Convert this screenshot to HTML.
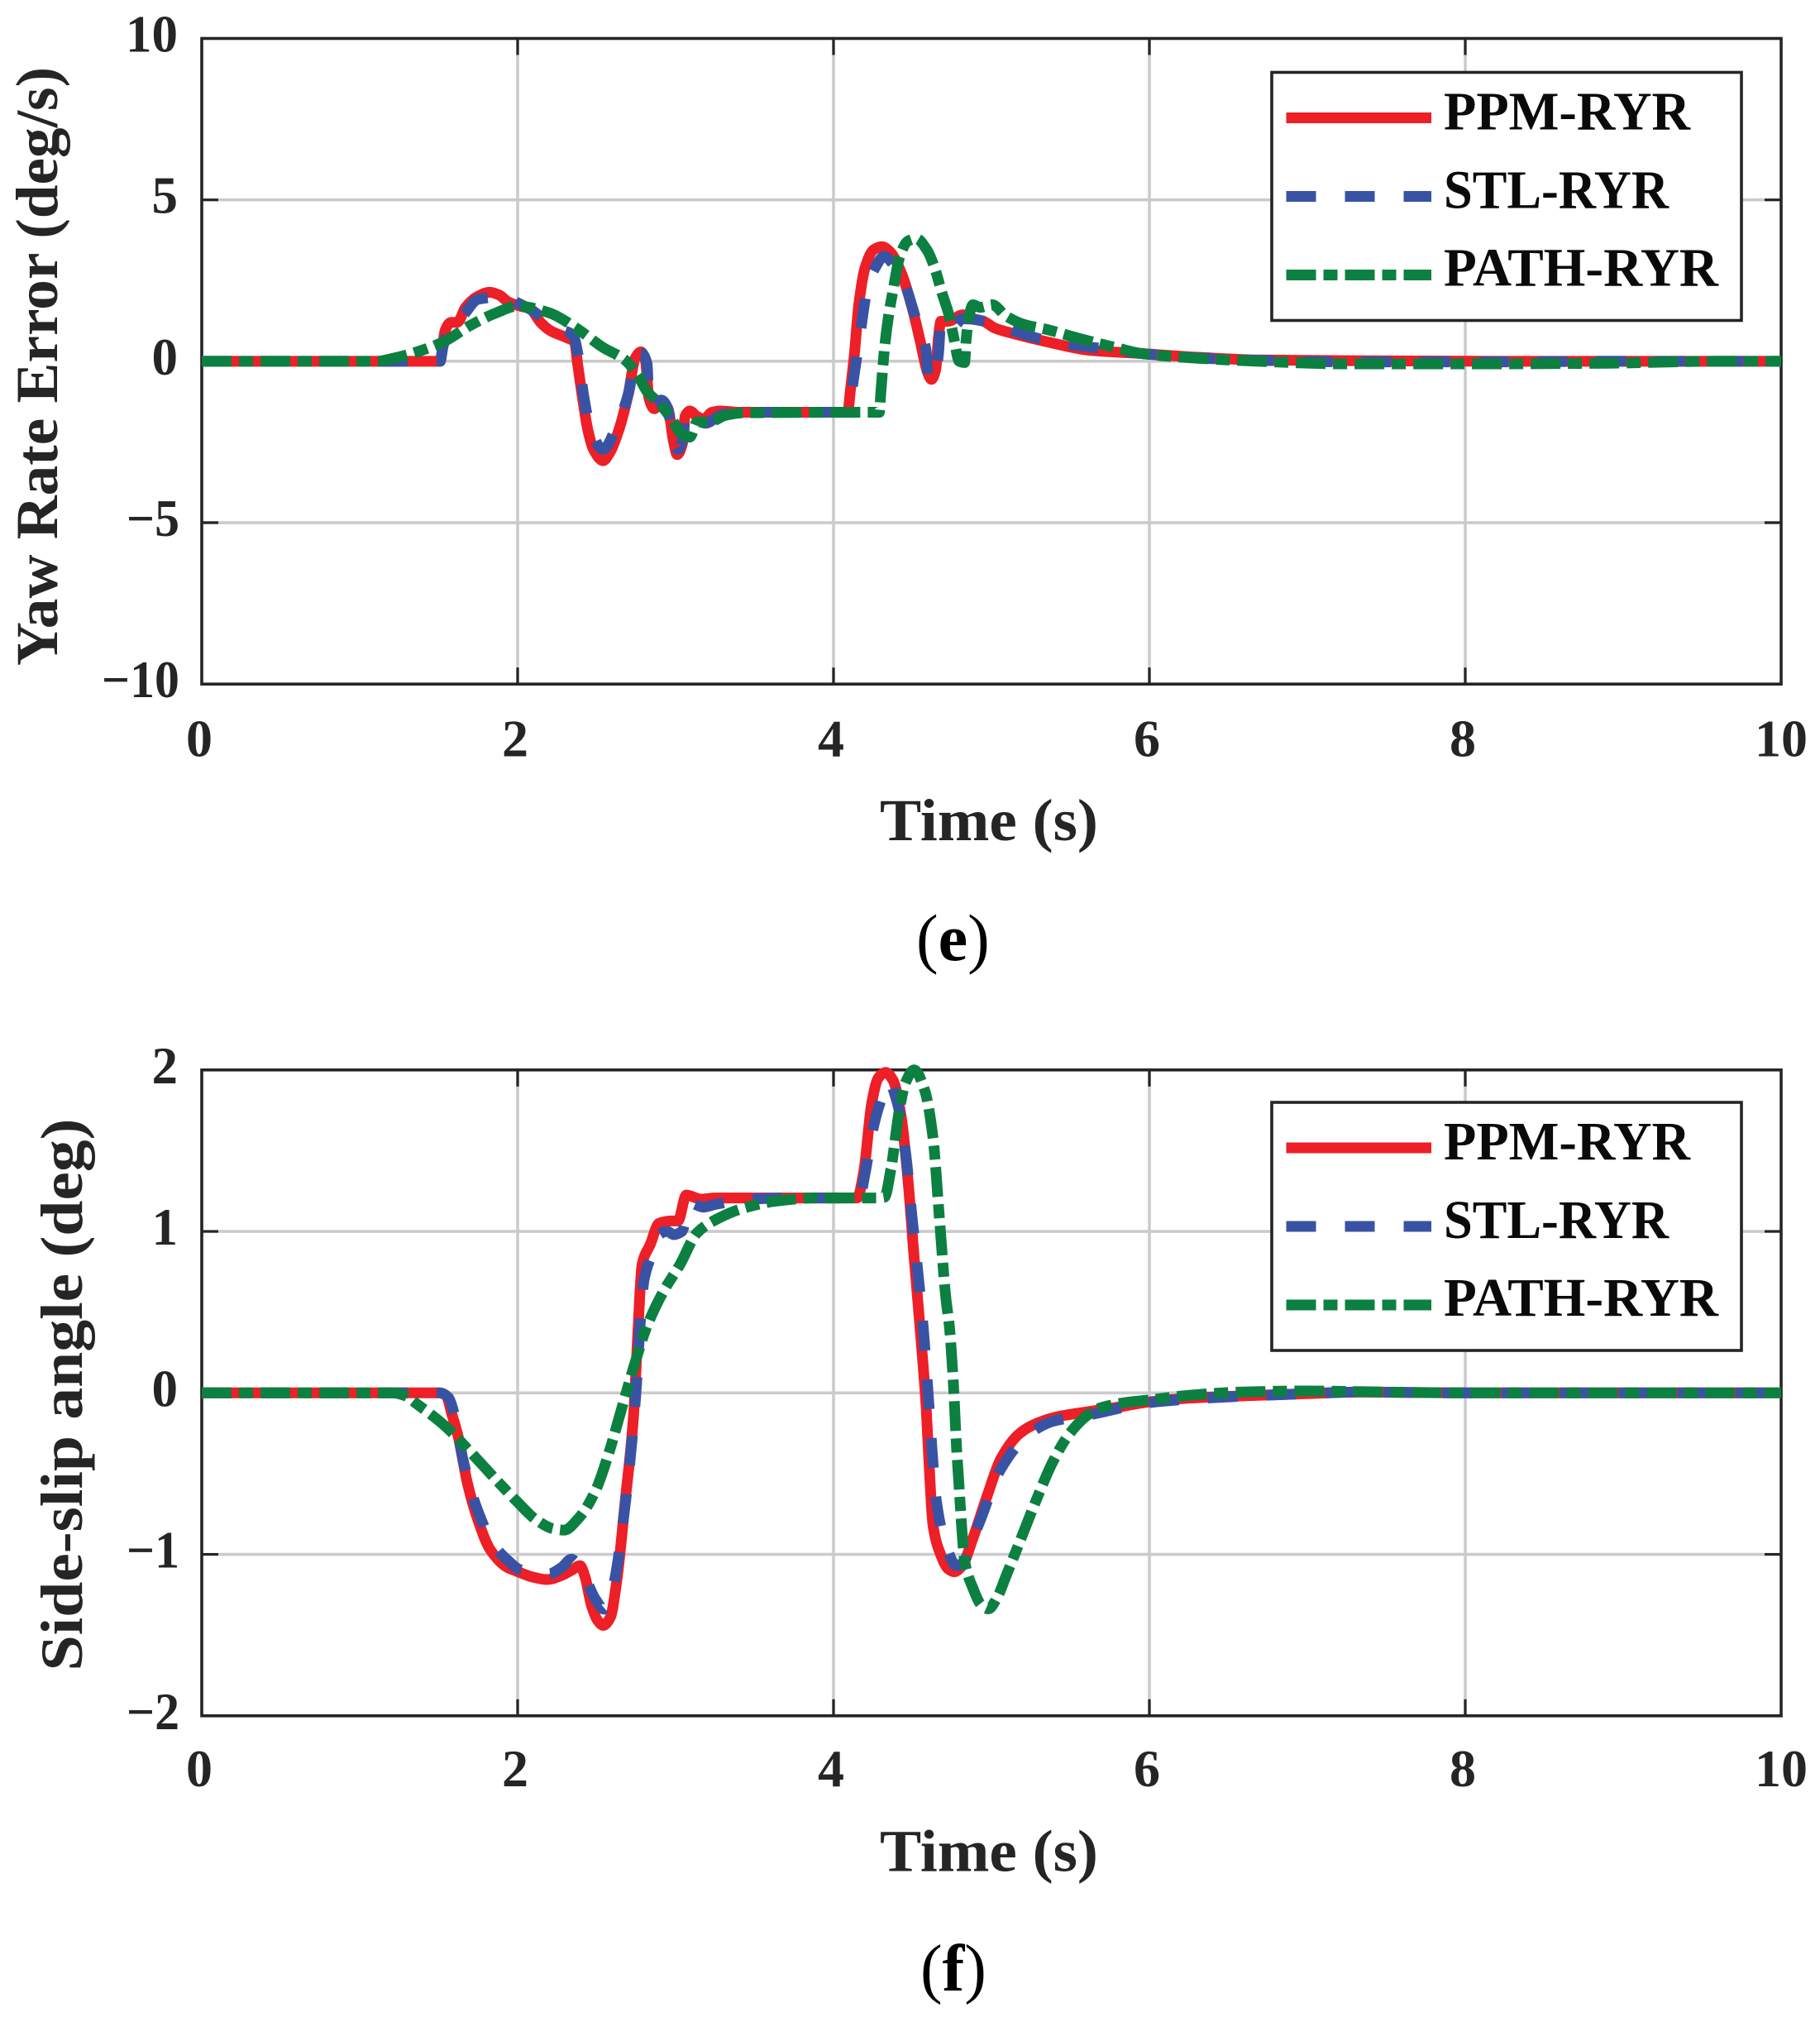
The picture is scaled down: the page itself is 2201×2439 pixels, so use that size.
<!DOCTYPE html>
<html lang="en">
<head>
<meta charset="utf-8">
<title>Yaw rate error and side-slip angle</title>
<style>
html,body{margin:0;padding:0;background:#fff;}
svg{display:block;}
text{font-family:"Liberation Serif",serif;font-weight:bold;}
</style>
</head>
<body>
<svg id="figure" xmlns="http://www.w3.org/2000/svg" width="2201" height="2439" viewBox="0 0 2201 2439"></svg>
<script>
// ---------- Tick labels ----------
const xTicks = [0, 2, 4, 6, 8, 10];
const eYTicks = [-10, -5, 0, 5, 10];
const fYTicks = [-2, -1, 0, 1, 2];

// ---------- Legend ----------
const legendLabels = ['PPM-RYR', 'STL-RYR', 'PATH-RYR'];

// ---------- Panel (e): yaw rate error, deg/s ----------
const eTimePpm = [0,1.51,1.52,1.54,1.576,1.62,1.67,1.744,1.824,1.884,1.94,2,2.08,2.146,2.21,2.31,2.36,2.38,2.41,2.445,2.48,2.54,2.585,2.64,2.7,2.744,2.78,2.81,2.83,2.865,2.9,2.95,2.987,3.01,3.043,3.06,3.09,3.136,3.18,3.23,3.286,3.4,4.09,4.106,4.133,4.159,4.2,4.255,4.307,4.36,4.43,4.5,4.55,4.595,4.62,4.647,4.665,4.68,4.725,4.82,4.883,4.95,5.02,5.145,5.354,5.62,5.95,6.32,6.69,7.24,8.16,10];
const ePpm = [0,0,0.25,0.94,1.2,1.21,1.67,2,2.14,2.05,1.84,1.73,1.62,1.2,0.94,0.73,0.6,-0.09,-1.11,-2.14,-2.73,-3.08,-2.82,-2.14,-1.03,0.09,0.29,0,-1.11,-1.47,-1.32,-1.45,-2.48,-2.89,-2.56,-1.71,-1.54,-1.71,-1.79,-1.58,-1.54,-1.58,-1.58,-0.94,0.26,1.71,2.9,3.46,3.55,3.38,2.73,1.62,0.6,-0.34,-0.56,-0.26,0.77,1.24,1.24,1.44,1.32,1.24,1.03,0.85,0.6,0.34,0.24,0.12,0.04,0.02,0,0];
const eTimeStl = [0,1.51,1.525,1.55,1.66,1.75,1.92,2,2.09,2.24,2.35,2.39,2.417,2.46,2.54,2.63,2.7,2.744,2.78,2.82,2.83,2.865,2.91,2.95,2.98,3.015,3.05,3.06,3.09,3.136,3.19,3.286,3.4,4.094,4.115,4.159,4.22,4.264,4.32,4.386,4.447,4.534,4.586,4.6,4.64,4.665,4.68,4.726,4.78,4.81,4.883,4.953,5.06,5.145,5.354,5.79,5.95,6.32,6.69,7.24,8.16,9,10];
const eStl = [0,0,0.4,0.8,1.45,1.92,2,1.81,1.58,1.03,0.81,0,-1.03,-2.05,-2.73,-1.97,-1.03,0,0.26,-0.09,-1.11,-1.37,-1.2,-1.45,-2.3,-2.73,-2.3,-1.71,-1.58,-1.79,-1.92,-1.67,-1.58,-1.58,-0.94,0.51,2.39,2.9,3.25,2.95,2.44,1.11,0.34,-0.5,-0.55,0.26,1.24,1.07,1.15,1.32,1.3,1.24,1.11,0.94,0.64,0.34,0.24,0.1,0.03,-0.02,-0.02,0,0];
const eTimePath = [0,1.11,1.2,1.342,1.53,1.7,1.865,2,2.2,2.37,2.54,2.68,2.76,2.82,2.9,2.987,3.03,3.09,3.136,3.21,3.32,3.417,4.255,4.29,4.3,4.325,4.35,4.377,4.42,4.47,4.525,4.59,4.64,4.685,4.73,4.76,4.796,4.83,4.84,4.857,4.883,4.927,5.005,5.09,5.2,5.354,5.546,5.79,5.95,6.32,6.69,7.24,8.16,8.9,9.6,10];
const ePath = [0,0,0.08,0.26,0.6,1.11,1.5,1.71,1.5,1.03,0.43,0.04,-0.43,-0.94,-1.32,-1.88,-2.22,-2.35,-1.88,-1.88,-1.67,-1.6,-1.58,-1.58,-0.94,0.51,1.45,2.2,3.25,3.72,3.8,3.46,2.9,2.14,1.45,0.77,0,-0.04,0.68,1.37,1.75,1.67,1.75,1.41,1.15,0.98,0.72,0.42,0.24,0.09,0,-0.08,-0.08,-0.06,0,0];

// ---------- Panel (f): side-slip angle, deg ----------
const fTimePpm = [0,1.506,1.546,1.586,1.626,1.68,1.746,1.826,1.933,2,2.093,2.187,2.28,2.347,2.395,2.427,2.467,2.507,2.542,2.587,2.627,2.68,2.734,2.76,2.788,2.84,2.895,2.975,3.015,3.068,3.16,3.255,3.75,4.15,4.19,4.243,4.283,4.33,4.377,4.43,4.47,4.51,4.56,4.586,4.604,4.63,4.674,4.726,4.764,4.813,4.883,4.97,5.06,5.18,5.284,5.407,5.616,5.79,6,6.23,6.54,7,7.3,8,10];
const fPpm = [0,0,-0.015,-0.14,-0.28,-0.55,-0.78,-0.97,-1.08,-1.107,-1.14,-1.156,-1.13,-1.095,-1.07,-1.14,-1.315,-1.41,-1.44,-1.39,-1.17,-0.68,-0.14,0.35,0.795,0.92,1.05,1.065,1.065,1.225,1.2,1.207,1.207,1.207,1.36,1.8,1.95,1.985,1.936,1.7,1.335,0.844,0.26,-0.08,-0.42,-0.82,-0.99,-1.09,-1.108,-1.073,-0.9,-0.646,-0.407,-0.25,-0.19,-0.15,-0.116,-0.09,-0.056,-0.034,-0.02,-0.005,0.005,0,0];
const fTimeStl = [0,1.506,1.56,1.6,1.653,1.746,1.853,1.947,2.013,2.2,2.28,2.34,2.414,2.494,2.547,2.6,2.68,2.748,2.774,2.8,2.855,2.895,2.948,2.988,3.04,3.095,3.175,3.255,3.482,3.75,4.163,4.2,4.243,4.296,4.35,4.403,4.457,4.497,4.537,4.57,4.595,4.62,4.65,4.71,4.78,4.813,4.918,5.057,5.24,5.39,5.634,6,6.4,7,7.3,8,10];
const fStl = [0,0,-0.027,-0.137,-0.41,-0.726,-0.947,-1.045,-1.094,-1.12,-1.08,-1.03,-1.12,-1.28,-1.34,-1.217,-0.7,-0.015,0.4,0.697,0.87,0.98,1,0.98,1,1.175,1.15,1.168,1.2,1.207,1.207,1.36,1.605,1.8,1.924,1.8,1.482,1.09,0.72,0.38,0.055,-0.3,-0.66,-0.94,-1.07,-1.056,-0.817,-0.475,-0.253,-0.176,-0.133,-0.06,-0.03,-0.005,0.005,0,0];
const fTimePath = [0,1.21,1.28,1.372,1.546,1.693,1.88,2,2.12,2.227,2.294,2.387,2.494,2.574,2.654,2.734,2.814,2.92,3.028,3.135,3.24,3.43,3.64,3.88,4.27,4.323,4.363,4.417,4.457,4.51,4.577,4.63,4.67,4.71,4.735,4.76,4.778,4.796,4.813,4.83,4.883,4.935,4.98,5.04,5.09,5.18,5.284,5.39,5.494,5.616,5.7,5.88,6,6.23,6.576,7,7.5,8,10];
const fPath = [0,0,-0.015,-0.076,-0.21,-0.358,-0.555,-0.677,-0.788,-0.842,-0.85,-0.775,-0.604,-0.383,-0.113,0.157,0.4,0.623,0.795,0.99,1.065,1.144,1.188,1.207,1.207,1.212,1.384,1.752,1.924,2,1.875,1.58,1.09,0.6,0.397,0.04,-0.32,-0.595,-0.85,-1.04,-1.21,-1.313,-1.338,-1.26,-1.14,-0.92,-0.663,-0.424,-0.253,-0.133,-0.09,-0.056,-0.044,-0.017,0.005,0.012,0.005,0,0];

const svg = document.getElementById('figure');
const NS = 'http://www.w3.org/2000/svg';
const INK = '#262425';
const GRID = '#cbcbcb';
const RED = '#ed1f27';
const BLUE = '#3953a4';
const GREEN = '#0c8040';
const LINE_W = 13;
const DASH_STL = '36 35';
const DASH_PATH = '36 9 17 9';

function make(tag, attrs, parent) {
  const el = document.createElementNS(NS, tag);
  for (const k in attrs) el.setAttribute(k, attrs[k]);
  (parent || svg).appendChild(el);
  return el;
}

function monotonePath(px, py) {
  const n = px.length;
  const m = new Array(n).fill(0);
  const dx = [], s = [];
  for (let i = 0; i < n - 1; i++) {
    dx[i] = px[i + 1] - px[i];
    s[i] = (py[i + 1] - py[i]) / dx[i];
  }
  m[0] = s[0];
  m[n - 1] = s[n - 2];
  for (let i = 1; i < n - 1; i++) {
    if (s[i - 1] * s[i] <= 0) m[i] = 0;
    else {
      const h = (dx[i - 1] + dx[i]);
      m[i] = 3 * h / ((h + dx[i]) / s[i - 1] + (h + dx[i - 1]) / s[i]);
    }
  }
  let d = 'M' + px[0].toFixed(2) + ' ' + py[0].toFixed(2);
  for (let i = 0; i < n - 1; i++) {
    const h = dx[i] / 3;
    d += 'C' + (px[i] + h).toFixed(2) + ' ' + (py[i] + m[i] * h).toFixed(2) + ' ' +
      (px[i + 1] - h).toFixed(2) + ' ' + (py[i + 1] - m[i + 1] * h).toFixed(2) + ' ' +
      px[i + 1].toFixed(2) + ' ' + py[i + 1].toFixed(2);
  }
  return d;
}

function drawPanel(p) {
  const group = make('g', {});
  
  

  const L = 244, R = 2154;
  const xScale = t => L + (t - 0) / 10 * (R - L);
  const yMin = p.yTicks[0];
  const yMax = p.yTicks[p.yTicks.length - 1];
  const yScale = v => p.bottom - (v - yMin) / (yMax - yMin) * (p.bottom - p.top);

  const background = make('rect', { x: L, y: p.top, width: R - L, height: p.bottom - p.top, fill: '#fff' }, group);
  
  

  xTicks.forEach(t => {
    const x = xScale(t);
    if (t !== 0 && t !== 10) {
      const g = make('line', { x1: x, x2: x, y1: p.top, y2: p.bottom, stroke: GRID, 'stroke-width': 3.6 }, group);
      
      
      const a = make('line', { x1: x, x2: x, y1: p.top, y2: p.top + 20, stroke: INK, 'stroke-width': 3.2 }, group);
      
      
      const b = make('line', { x1: x, x2: x, y1: p.bottom - 20, y2: p.bottom, stroke: INK, 'stroke-width': 3.2 }, group);
      
      
    }
    const label = make('text', { x: x - 3 + (t === 10 ? 3 : 0), y: p.xLabelY, 'text-anchor': 'middle', 'font-size': 64, fill: INK }, group);
    label.textContent = String(t);
    
    
  });

  p.yTicks.forEach(v => {
    const y = yScale(v);
    if (v !== yMin && v !== yMax) {
      const g = make('line', { x1: L, x2: R, y1: y, y2: y, stroke: GRID, 'stroke-width': 3.6 }, group);
      
      
      const a = make('line', { x1: L, x2: L + 20, y1: y, y2: y, stroke: INK, 'stroke-width': 3.2 }, group);
      
      
      const b = make('line', { x1: R - 20, x2: R, y1: y, y2: y, stroke: INK, 'stroke-width': 3.2 }, group);
      
      
    }
    const text = String(v).replace('-', '\u2212');
    const label = make('text', { x: v < 0 ? 217 : 215, y: y + 16, 'text-anchor': 'end', 'font-size': 63, fill: INK }, group);
    if (v < 0) {
      label.setAttribute('textLength', 34 + 30 * (text.length - 1));
      label.setAttribute('lengthAdjust', 'spacingAndGlyphs');
    }
    label.textContent = text;
    
    
  });

  const frame = make('rect', { x: L, y: p.top, width: R - L, height: p.bottom - p.top, fill: 'none', stroke: INK, 'stroke-width': 3.6 }, group);
  
  

  p.series.forEach(s => {
    const line = make('path', {
      d: monotonePath(s.t.map(xScale), s.v.map(yScale)),
      fill: 'none', stroke: s.color, 'stroke-width': LINE_W,
      'stroke-linejoin': 'round', 'stroke-linecap': 'butt'
    }, group);
    if (s.dash) line.setAttribute('stroke-dasharray', s.dash);
    
    
  });

  const legend = make('g', {}, group);
  
  
  const box = make('rect', { x: 1544, y: p.legendTop, width: 568, height: 300, fill: '#fff', stroke: INK, 'stroke-width': 3.6 }, legend);
  box.setAttribute('x', 1544 - 6);
  
  
  const textLens = [298, 272, 332];
  const lineOffs = [55, 150, 245];
  const baseOffs = [69, 164, 258];
  p.series.forEach((s, i) => {
    const sw = make('line', { x1: 1555.5, x2: 1731, y1: p.legendTop + lineOffs[i], y2: p.legendTop + lineOffs[i], stroke: s.color, 'stroke-width': LINE_W }, legend);
    if (s.dash) sw.setAttribute('stroke-dasharray', s.dash);
    
    
    const tx = make('text', { x: 1746, y: p.legendTop + baseOffs[i], 'font-size': 66, fill: '#0a0a0a', textLength: textLens[i], lengthAdjust: 'spacingAndGlyphs' }, legend);
    tx.textContent = legendLabels[i];
    
    
  });

  const xTitle = make('text', { x: 1064, y: p.xTitleY, 'font-size': 72, fill: INK, textLength: 264, lengthAdjust: 'spacingAndGlyphs' }, group);
  xTitle.textContent = 'Time (s)';
  
  

  const yTitle = make('text', {
    x: 0, y: 0, 'font-size': 72, fill: INK, 'text-anchor': 'middle',
    textLength: p.yTitleLen, lengthAdjust: 'spacingAndGlyphs',
    transform: 'translate(' + p.yTitleX + ' ' + p.yTitleCy + ') rotate(-90)'
  }, group);
  yTitle.textContent = p.yTitle;
  
  

  const cap = make('text', { x: p.capX, y: p.capY, 'font-size': 80, fill: '#000' }, group);
  
  
  const open = make('tspan', { 'font-weight': 'normal' }, cap);
  open.textContent = '(';
  const letter = make('tspan', {}, cap);
  letter.textContent = p.captionLetter;
  const close = make('tspan', { 'font-weight': 'normal' }, cap);
  close.textContent = ')';
}

drawPanel({
  name: 'panel-e-yaw-rate-error', top: 46.5, bottom: 827.2, yTicks: eYTicks,
  xLabelY: 914.5, xTitleY: 1016, legendTop: 87.5,
  yTitle: 'Yaw Rate Error (deg/s)', yTitleX: 69, yTitleCy: 443, yTitleLen: 724,
  captionLetter: 'e', capX: 1108, capY: 1161.5,
  series: [
    { name: 'ppm-ryr-line', t: eTimePpm, v: ePpm, color: RED },
    { name: 'stl-ryr-line', t: eTimeStl, v: eStl, color: BLUE, dash: DASH_STL },
    { name: 'path-ryr-line', t: eTimePath, v: ePath, color: GREEN, dash: DASH_PATH }
  ]
});

drawPanel({
  name: 'panel-f-side-slip-angle', top: 1293.8, bottom: 2074.8, yTicks: fYTicks,
  xLabelY: 2160, xTitleY: 2262.5, legendTop: 1333,
  yTitle: 'Side-slip angle (deg)', yTitleX: 99, yTitleCy: 1686.5, yTitleLen: 668,
  captionLetter: 'f', capX: 1113, capY: 2407,
  series: [
    { name: 'ppm-ryr-line', t: fTimePpm, v: fPpm, color: RED },
    { name: 'stl-ryr-line', t: fTimeStl, v: fStl, color: BLUE, dash: DASH_STL },
    { name: 'path-ryr-line', t: fTimePath, v: fPath, color: GREEN, dash: DASH_PATH }
  ]
});
</script>
</body>
</html>
